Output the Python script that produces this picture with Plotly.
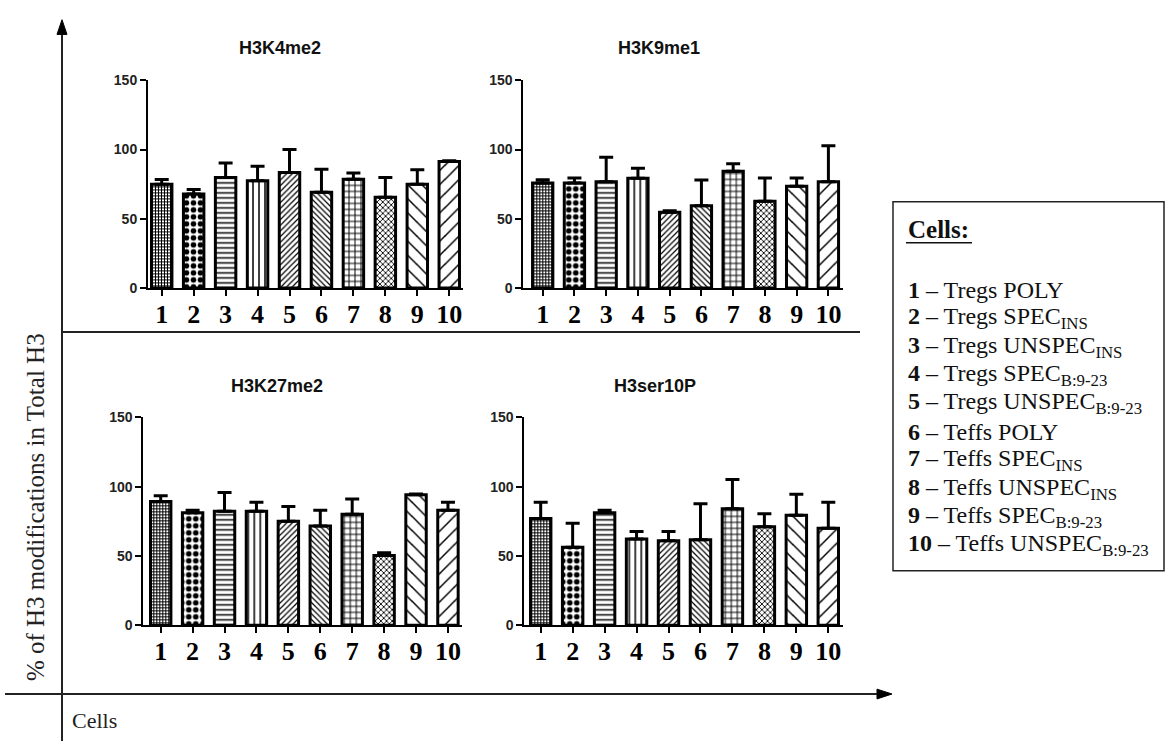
import plotly.graph_objects as go

# ---------------- data ----------------
cells = ["1", "2", "3", "4", "5", "6", "7", "8", "9", "10"]
cell_labels = [
    "Tregs POLY",
    "Tregs SPEC<sub>INS</sub>",
    "Tregs UNSPEC<sub>INS</sub>",
    "Tregs SPEC<sub>B:9-23</sub>",
    "Tregs UNSPEC<sub>B:9-23</sub>",
    "Teffs POLY",
    "Teffs SPEC<sub>INS</sub>",
    "Teffs UNSPEC<sub>INS</sub>",
    "Teffs SPEC<sub>B:9-23</sub>",
    "Teffs UNSPEC<sub>B:9-23</sub>",
]
panel_titles = ["H3K4me2", "H3K9me1", "H3K27me2", "H3ser10P"]

h3k4me2 = [75.0, 67.9, 79.8, 77.4, 83.4, 69.1, 78.6, 65.5, 75.0, 91.4]
h3k4me2_err = [3.4, 3.3, 10.5, 10.5, 16.6, 16.6, 4.5, 14.3, 10.5, 0.5]

h3k9me1 = [75.9, 75.9, 76.8, 79.2, 54.6, 59.3, 84.4, 62.6, 73.5, 76.8]
h3k9me1_err = [2.3, 3.5, 17.7, 7.3, 1.2, 18.7, 5.4, 16.8, 5.9, 26.0]

h3k27me2 = [89.2, 81.2, 82.2, 82.2, 75.1, 71.6, 80.1, 50.4, 94.2, 82.9]
h3k27me2_err = [4.3, 1.7, 13.6, 6.6, 10.6, 11.3, 11.0, 1.9, 0.5, 5.9]

h3ser10p = [77.0, 56.3, 81.2, 62.2, 61.0, 61.7, 84.0, 71.1, 79.4, 69.9]
h3ser10p_err = [11.8, 17.2, 1.7, 5.4, 6.6, 25.9, 21.2, 9.4, 15.2, 18.9]

y_ticks = [0, 50, 100, 150]
y_label = "% of H3 modifications in Total H3"
x_label = "Cells"
legend_title = "Cells:"

# ---------------- styling ----------------
W, H = 1167, 749
def px(x):
    return x / W
def py(y):
    return 1 - y / H

shapes_pat = ["+", ".", "-", "|", "/", "\\", "+", "x", "\\", "/"]
sizes_pat = [3, 7, 5, 6, 4, 4, 6, 4, 10, 10]
solid_pat = [0.55, 0.5, 0.3, 0.25, 0.3, 0.3, 0.3, 0.4, 0.15, 0.15]

serif = "Liberation Serif, Times New Roman, serif"
sans = "Liberation Sans, Arial, sans-serif"

# panel geometry: (x-left px, x-right px, range start, range end, y px of 0, y px of 150)
panels = [
    (148.0, 463.0, 0.571, 10.43, 286.0, 74.0),
    (523.3, 843.0, 0.389, 10.46, 286.0, 74.0),
    (143.3, 462.0, 0.455, 10.44, 630.7, 418.3),
    (524.3, 843.0, 0.487, 10.46, 630.7, 418.3),
]
title_pos = [(280, 41), (659, 41), (277, 386), (655, 386)]

series = [(h3k4me2, h3k4me2_err), (h3k9me1, h3k9me1_err),
          (h3k27me2, h3k27me2_err), (h3ser10p, h3ser10p_err)]

fig = go.Figure()
xs = list(range(1, len(cells) + 1))

for i, ((vals, errs), geo) in enumerate(zip(series, panels)):
    k = "" if i == 0 else str(i + 1)
    fig.add_trace(go.Bar(
        x=xs, y=vals, width=0.64,
        xaxis="x" + k, yaxis="y" + k,
        marker=dict(
            color="white",
            line=dict(color="black", width=3),
            pattern=dict(shape=shapes_pat, size=sizes_pat, solidity=solid_pat,
                         fgcolor="black", bgcolor="white", fillmode="replace"),
        ),
        error_y=dict(type="data", symmetric=False, array=errs,
                     arrayminus=[0] * len(errs),
                     color="black", thickness=3, width=7),
        showlegend=False, hoverinfo="skip",
    ))
    xl, xr, r0, r1, y0, y150 = geo
    fig.layout["xaxis" + k] = dict(
        domain=[px(xl), px(xr)], range=[r0, r1], anchor="y" + k,
        tickmode="array", tickvals=xs, ticktext=cells,
        showline=True, linecolor="black", linewidth=2,
        ticks="outside", ticklen=6, tickwidth=2, tickcolor="black",
        ticklabelstandoff=-4,
        tickfont=dict(family=serif, size=26, color="black", weight="bold"),
        showgrid=False, zeroline=False, fixedrange=True,
    )
    fig.layout["yaxis" + k] = dict(
        domain=[py(y0), py(y150)], range=[0, 150], anchor="x" + k,
        tickmode="array", tickvals=y_ticks,
        showline=True, linecolor="black", linewidth=2,
        ticks="outside", ticklen=6, tickwidth=2, tickcolor="black",
        tickfont=dict(family=sans, size=14, color="#222", weight="bold"),
        showgrid=False, zeroline=False, fixedrange=True,
    )

annotations = []
for t, (tx, ty) in zip(panel_titles, title_pos):
    annotations.append(dict(
        text="<b>" + t + "</b>", x=px(tx), y=py(ty), xref="paper", yref="paper",
        showarrow=False, xanchor="center", yanchor="middle",
        font=dict(family=sans, size=18, color="#111")))

# axis labels of the overall frame
annotations.append(dict(
    text=y_label, x=px(35), y=py(510), xref="paper", yref="paper",
    showarrow=False, textangle=-90, xanchor="center", yanchor="middle",
    font=dict(family=serif, size=25, color="#222")))
annotations.append(dict(
    text=x_label, x=px(70), y=py(728), xref="paper", yref="paper",
    showarrow=False, xanchor="left", yanchor="middle",
    font=dict(family=serif, size=22, color="#222")))

# legend box
box_l, box_r, box_t, box_b = 893, 1164, 198, 575
txt_x = 906
annotations.append(dict(
    text="<b>" + legend_title + "</b>", x=px(txt_x), y=py(226), xref="paper", yref="paper",
    showarrow=False, xanchor="left", yanchor="middle",
    font=dict(family=serif, size=25, color="#111")))
for j, (c, lab) in enumerate(zip(cells, cell_labels)):
    annotations.append(dict(
        text="<b>" + c + "</b> – " + lab, x=px(txt_x), y=py(288 + 29 * j),
        xref="paper", yref="paper", showarrow=False, xanchor="left", yanchor="middle",
        font=dict(family=serif, size=24, color="#111")))

shapes = [
    # vertical frame axis
    dict(type="line", xref="paper", yref="paper", x0=px(62), x1=px(62), y0=py(749), y1=py(24),
         line=dict(color="#222", width=2)),
    dict(type="path", xref="paper", yref="paper",
         path=f"M {px(62)} {py(12)} L {px(57)} {py(27)} L {px(67)} {py(27)} Z",
         fillcolor="black", line=dict(color="black", width=1)),
    # divider between rows
    dict(type="line", xref="paper", yref="paper", x0=px(62), x1=px(860), y0=py(331), y1=py(331),
         line=dict(color="#222", width=2)),
    # bottom frame axis
    dict(type="line", xref="paper", yref="paper", x0=px(5), x1=px(878), y0=py(701), y1=py(701),
         line=dict(color="#222", width=2)),
    dict(type="path", xref="paper", yref="paper",
         path=f"M {px(892)} {py(701)} L {px(877)} {py(696)} L {px(877)} {py(706)} Z",
         fillcolor="black", line=dict(color="black", width=1)),
    # legend box
    dict(type="rect", xref="paper", yref="paper", x0=px(box_l), x1=px(box_r), y0=py(box_b), y1=py(box_t),
         line=dict(color="#222", width=1.5), fillcolor="rgba(0,0,0,0)"),
    # underline of legend title
    dict(type="line", xref="paper", yref="paper", x0=px(txt_x), x1=px(txt_x + 66), y0=py(240), y1=py(240),
         line=dict(color="#111", width=1.5)),
]

fig.update_layout(
    width=W, height=H,
    margin=dict(l=0, r=0, t=0, b=0),
    paper_bgcolor="white", plot_bgcolor="white",
    annotations=annotations, shapes=shapes,
    bargap=0.3,
)

fig.write_html("out.html", config={"displayModeBar": False},
               post_script="document.body.style.margin='0px';")
